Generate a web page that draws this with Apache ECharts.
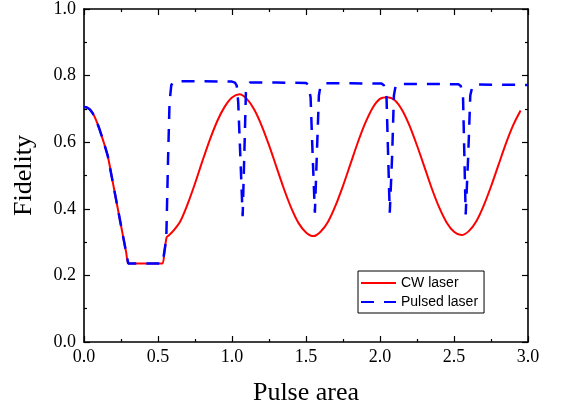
<!DOCTYPE html>
<html>
<head>
<meta charset="utf-8">
<title>Fidelity vs pulse area</title>
<script src="https://cdn.jsdelivr.net/npm/echarts@6/dist/echarts.min.js"></script>
<style>
  html, body { margin: 0; padding: 0; background: #fff; }
  #chart { width: 564px; height: 413px; }
</style>
</head>
<body>
<div id="chart"></div>
<script>
// data
const cwX = [0, 0.02, 0.04, 0.06, 0.08, 0.10, 0.12, 0.14, 0.16, 0.20, 0.25, 0.285, 0.299, 0.315, 0.515, 0.531, 0.545, 0.558, 0.572,
  0.60, 0.65, 0.70, 0.75, 0.80, 0.85, 0.90, 0.95, 1.00, 1.05, 1.10, 1.15, 1.20, 1.25, 1.30, 1.35,
  1.40, 1.45, 1.50, 1.55, 1.60, 1.65, 1.70, 1.75, 1.80, 1.85, 1.90, 1.95, 2.00, 2.05, 2.10, 2.15,
  2.20, 2.25, 2.30, 2.35, 2.40, 2.45, 2.50, 2.55, 2.60, 2.65, 2.70, 2.75, 2.80, 2.85, 2.90, 2.95];
const cwY = [0.706, 0.704, 0.698, 0.686, 0.668, 0.645, 0.618, 0.590, 0.560, 0.467, 0.350, 0.269, 0.236, 0.236, 0.236, 0.236, 0.275, 0.314, 0.320,
  0.332, 0.362, 0.414, 0.476, 0.543, 0.607, 0.663, 0.706, 0.734, 0.744, 0.730, 0.698, 0.650, 0.591, 0.526, 0.461,
  0.403, 0.357, 0.329, 0.318, 0.332, 0.362, 0.410, 0.469, 0.534, 0.599, 0.657, 0.703, 0.730, 0.735, 0.726, 0.696,
  0.649, 0.590, 0.526, 0.461, 0.404, 0.359, 0.331, 0.321, 0.333, 0.362, 0.409, 0.467, 0.531, 0.595, 0.651, 0.695];

const pulsedX = [0, 0.02, 0.04, 0.06, 0.08, 0.10, 0.12, 0.14, 0.16, 0.20, 0.25, 0.299, 0.531, 0.556,
  0.568, 0.578, 0.59, 0.605, 0.63, 0.80, 1.00, 1.02, 1.032, 1.042, 1.057, 1.072, 1.083, 1.094, 1.104, 1.12,
  1.30, 1.50, 1.514, 1.531, 1.545, 1.56, 1.573, 1.587, 1.598, 1.615,
  1.80, 2.01, 2.026, 2.044, 2.055, 2.066, 2.082, 2.094, 2.105, 2.12,
  2.30, 2.53, 2.546, 2.561, 2.57, 2.579, 2.596, 2.61, 2.624, 2.64, 3.0];
const pulsedY = [0.706, 0.704, 0.698, 0.686, 0.668, 0.645, 0.618, 0.590, 0.560, 0.467, 0.350, 0.236, 0.236, 0.310,
  0.550, 0.720, 0.772, 0.781, 0.783, 0.783, 0.782, 0.779, 0.770, 0.720, 0.550, 0.378, 0.560, 0.750, 0.772, 0.779,
  0.779, 0.778, 0.773, 0.735, 0.560, 0.388, 0.560, 0.740, 0.769, 0.777,
  0.777, 0.776, 0.771, 0.735, 0.560, 0.388, 0.560, 0.740, 0.768, 0.775,
  0.775, 0.774, 0.769, 0.735, 0.560, 0.383, 0.560, 0.740, 0.768, 0.773, 0.772];

const seriesNames = ['CW laser', 'Pulsed laser'];

const serif = '"Liberation Serif", "Times New Roman", serif';
const sans = '"Liberation Sans", Arial, sans-serif';

function pairs(xs, ys) {
  return xs.map((x, i) => [x, ys[i]]);
}

function frameAxis(extra) {
  // shared look of the four box edges: inward ticks, minor ticks, black line
  return Object.assign({
    type: 'value',
    axisLine: { show: true, onZero: false, lineStyle: { color: '#000', width: 1.6 } },
    axisTick: { show: true, inside: true, length: 6, lineStyle: { color: '#000', width: 1.2 } },
    minorTick: { show: true, splitNumber: 2, length: 3, lineStyle: { color: '#000', width: 1.2 } },
    splitLine: { show: false },
    minorSplitLine: { show: false }
  }, extra);
}

const chart = echarts.init(document.getElementById('chart'));

chart.setOption({
  animation: false,
  backgroundColor: '#fff',
  grid: { left: 84, right: 36, top: 8, bottom: 71 },
  legend: {
    data: seriesNames,
    orient: 'vertical',
    left: 358,
    top: 271,
    padding: [5, 6, 4, 2],
    itemWidth: 35,
    itemHeight: 14,
    itemGap: 5,
    borderColor: '#000',
    borderWidth: 1,
    itemStyle: { opacity: 0 },   // line only, no marker
    textStyle: { fontFamily: sans, fontSize: 14, color: '#000', lineHeight: 14 }
  },
  xAxis: [
    frameAxis({
      position: 'bottom', min: 0, max: 3, interval: 0.5,
      name: 'Pulse area', nameLocation: 'middle', nameGap: 38,
      nameTextStyle: { fontFamily: serif, fontSize: 26, color: '#000' },
      axisLabel: { fontFamily: serif, fontSize: 18, color: '#000', margin: 6,
        formatter: (v) => v.toFixed(1) }
    }),
    frameAxis({
      position: 'top', min: 0, max: 3, interval: 0.5,
      axisLabel: { show: false }
    })
  ],
  yAxis: [
    frameAxis({
      position: 'left', min: 0, max: 1, interval: 0.2,
      name: 'Fidelity', nameLocation: 'middle', nameGap: 47,
      nameTextStyle: { fontFamily: serif, fontSize: 26, color: '#000' },
      axisLabel: { fontFamily: serif, fontSize: 18, color: '#000', margin: 8,
        formatter: (v) => v.toFixed(1) }
    }),
    frameAxis({
      position: 'right', min: 0, max: 1, interval: 0.2,
      axisLabel: { show: false }
    })
  ],
  series: [
    {
      name: seriesNames[0],
      type: 'line',
      data: pairs(cwX, cwY),
      symbol: 'none',
      smooth: 0.3,
      itemStyle: { color: '#ff0000' },
      lineStyle: { color: '#ff0000', width: 2 }
    },
    {
      name: seriesNames[1],
      type: 'line',
      data: pairs(pulsedX, pulsedY),
      symbol: 'none',
      smooth: false,
      itemStyle: { color: '#0000ff' },
      lineStyle: { color: '#0000ff', width: 2.5, type: [13, 10] }
    }
  ]
});
</script>
</body>
</html>
